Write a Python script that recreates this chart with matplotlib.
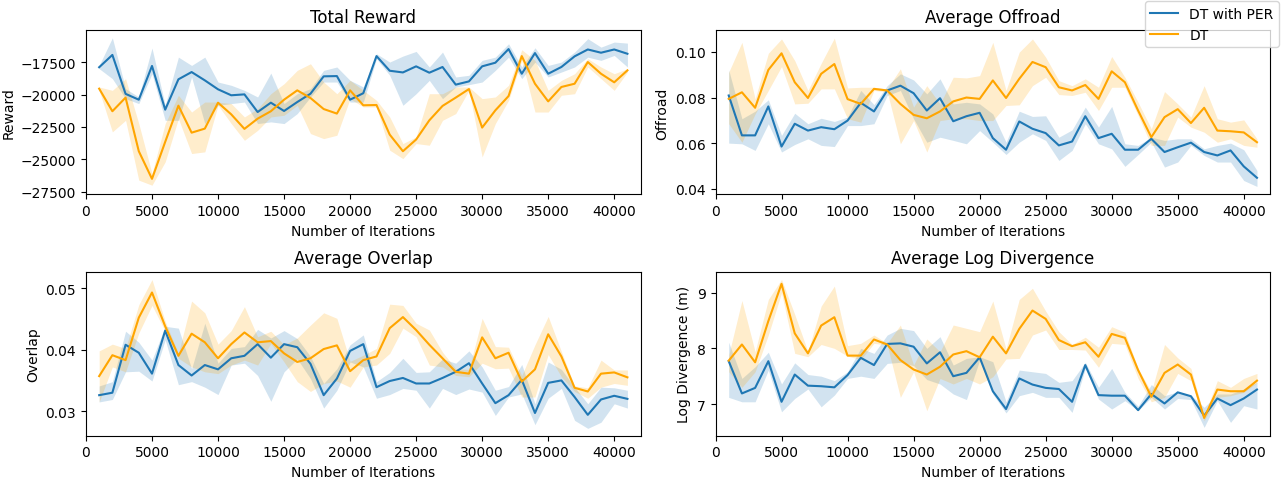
import numpy as np
import matplotlib
matplotlib.use('Agg')
import matplotlib.pyplot as plt
from matplotlib.ticker import MultipleLocator

iterations = np.arange(1000, 42000, 1000)

# Total Reward
reward_per = [-17900, -16950, -19950, -20400, -17800, -21170, -18830, -18270, -18910, -19600,
              -20060, -19990, -21350, -20630, -21270, -20580, -19940, -18600, -18580, -20400,
              -19900, -17040, -18170, -18300, -17830, -18320, -17880, -19240, -18990, -17830,
              -17550, -16500, -18400, -16810, -18400, -17880, -17060, -16530, -16780, -16530, -16860]
reward_per_lo = [-18010, -18780, -20320, -20700, -18400, -21990, -21990, -18650, -22240, -20830,
                 -20700, -20580, -22240, -22110, -22240, -21470, -20190, -19040, -19040, -20580,
                 -20580, -17240, -18520, -20830, -19940, -18910, -20320, -19420, -19240, -19040,
                 -18140, -17120, -18780, -17500, -18650, -18270, -17880, -17120, -17370, -16990, -17880]
reward_per_hi = [-17760, -15630, -19550, -20190, -16420, -20830, -17120, -17760, -17120, -19040,
                 -19290, -19680, -20190, -18350, -20700, -19940, -19550, -18140, -17880, -18910,
                 -19420, -16860, -17500, -17040, -16680, -17880, -16730, -18650, -18520, -17370,
                 -17120, -16090, -17880, -16400, -17760, -17500, -16730, -15700, -16350, -15960, -16040]
reward_dt = [-19550, -21290, -20240, -24370, -26500, -23650, -20860, -22940, -22630, -20630,
             -21530, -22650, -21860, -21290, -20400, -19680, -20270, -21120, -21470, -19680,
             -20830, -20810, -23090, -24370, -23470, -21990, -20880, -20240, -19580, -22550,
             -21220, -20120, -17040, -19170, -20530, -19420, -19170, -17500, -18400, -19060, -18140]
reward_dt_lo = [-19680, -22880, -21990, -26600, -26990, -25190, -21860, -24550, -24420, -20830,
                -22240, -23530, -22760, -21730, -21600, -20830, -23010, -23400, -23140, -20320,
                -20960, -20960, -24290, -24940, -23780, -23910, -21990, -21470, -19680, -24810,
                -22240, -20450, -17370, -21350, -21350, -20060, -19940, -17880, -18780, -19680, -18270]
reward_dt_hi = [-19420, -19680, -18780, -22240, -26090, -22240, -20060, -21350, -20580, -20580,
                -20700, -21730, -21090, -19940, -19170, -18140, -17630, -19040, -19940, -18910,
                -19680, -20450, -21730, -23780, -23270, -19940, -19940, -19420, -19420, -20320,
                -20190, -19290, -16550, -17370, -19680, -18910, -18400, -17240, -17880, -18400, -18010]

# Average Offroad
offroad_per = [0.0809, 0.0634, 0.0634, 0.0761, 0.0585, 0.0685, 0.0655, 0.0670, 0.0661, 0.0699,
               0.0777, 0.0739, 0.0831, 0.0852, 0.0819, 0.0743, 0.0797, 0.0696, 0.0718, 0.0733,
               0.0622, 0.0571, 0.0695, 0.0663, 0.0644, 0.0590, 0.0607, 0.0718, 0.0622, 0.0641,
               0.0571, 0.0571, 0.0619, 0.0561, 0.0582, 0.0602, 0.0561, 0.0546, 0.0568, 0.0498, 0.0448]
offroad_per_lo = [0.0600, 0.0597, 0.0568, 0.0685, 0.0561, 0.0594, 0.0619, 0.0590, 0.0585, 0.0677,
                  0.0677, 0.0685, 0.0809, 0.0831, 0.0707, 0.0604, 0.0626, 0.0612, 0.0597, 0.0655,
                  0.0604, 0.0550, 0.0604, 0.0641, 0.0612, 0.0524, 0.0568, 0.0685, 0.0597, 0.0575,
                  0.0498, 0.0550, 0.0604, 0.0495, 0.0517, 0.0590, 0.0546, 0.0517, 0.0517, 0.0436, 0.0410]
offroad_per_hi = [0.0921, 0.0707, 0.0740, 0.0790, 0.0634, 0.0731, 0.0685, 0.0709, 0.0695, 0.0714,
                  0.0831, 0.0769, 0.0852, 0.0904, 0.0877, 0.0816, 0.0882, 0.0772, 0.0779, 0.0772,
                  0.0728, 0.0604, 0.0740, 0.0717, 0.0720, 0.0626, 0.0658, 0.0758, 0.0670, 0.0761,
                  0.0597, 0.0590, 0.0626, 0.0612, 0.0619, 0.0619, 0.0575, 0.0590, 0.0600, 0.0571, 0.0480]
offroad_dt = [0.0794, 0.0823, 0.0755, 0.0921, 0.0994, 0.0867, 0.0798, 0.0904, 0.0947, 0.0793,
              0.0772, 0.0838, 0.0831, 0.0772, 0.0724, 0.0709, 0.0739, 0.0783, 0.0800, 0.0794,
              0.0875, 0.0798, 0.0882, 0.0956, 0.0933, 0.0845, 0.0831, 0.0855, 0.0794, 0.0915,
              0.0867, 0.0743, 0.0626, 0.0714, 0.0749, 0.0688, 0.0755, 0.0655, 0.0652, 0.0647, 0.0604]
offroad_dt_lo = [0.0685, 0.0604, 0.0728, 0.0831, 0.0936, 0.0772, 0.0775, 0.0838, 0.0838, 0.0707,
                 0.0692, 0.0831, 0.0825, 0.0597, 0.0699, 0.0561, 0.0699, 0.0707, 0.0707, 0.0699,
                 0.0699, 0.0765, 0.0768, 0.0852, 0.0889, 0.0813, 0.0809, 0.0823, 0.0743, 0.0845,
                 0.0845, 0.0721, 0.0590, 0.0590, 0.0714, 0.0670, 0.0648, 0.0604, 0.0619, 0.0590, 0.0582]
offroad_dt_hi = [0.0911, 0.1042, 0.0794, 0.0994, 0.1057, 0.0962, 0.0831, 0.0950, 0.1061, 0.0842,
                 0.0845, 0.0845, 0.0838, 0.0926, 0.0758, 0.0852, 0.0772, 0.0889, 0.0886, 0.0896,
                 0.1042, 0.0831, 0.0999, 0.1057, 0.0977, 0.0874, 0.0852, 0.0882, 0.0845, 0.0980,
                 0.0889, 0.0779, 0.0663, 0.0826, 0.0772, 0.0714, 0.0852, 0.0707, 0.0692, 0.0702, 0.0619]

# Average Overlap
overlap_per = [0.0326, 0.0330, 0.0408, 0.0395, 0.0361, 0.0431, 0.0375, 0.0358, 0.0375, 0.0368,
               0.0386, 0.0390, 0.0409, 0.0387, 0.0409, 0.0404, 0.0377, 0.0326, 0.0353, 0.0398,
               0.0409, 0.0339, 0.0349, 0.0354, 0.0345, 0.0345, 0.0354, 0.0364, 0.0378, 0.0345,
               0.0313, 0.0326, 0.0351, 0.0297, 0.0346, 0.0350, 0.0323, 0.0294, 0.0319, 0.0325, 0.0320]
overlap_per_lo = [0.0315, 0.0319, 0.0364, 0.0365, 0.0349, 0.0416, 0.0343, 0.0348, 0.0339, 0.0327,
                  0.0375, 0.0378, 0.0358, 0.0316, 0.0364, 0.0385, 0.0353, 0.0305, 0.0334, 0.0380,
                  0.0372, 0.0321, 0.0327, 0.0337, 0.0334, 0.0305, 0.0337, 0.0327, 0.0336, 0.0331,
                  0.0293, 0.0323, 0.0328, 0.0278, 0.0321, 0.0337, 0.0285, 0.0272, 0.0282, 0.0312, 0.0305]
overlap_per_hi = [0.0341, 0.0348, 0.0430, 0.0412, 0.0383, 0.0438, 0.0435, 0.0369, 0.0443, 0.0378,
                  0.0402, 0.0405, 0.0433, 0.0419, 0.0431, 0.0418, 0.0389, 0.0345, 0.0369, 0.0408,
                  0.0424, 0.0348, 0.0363, 0.0386, 0.0363, 0.0364, 0.0385, 0.0378, 0.0398, 0.0372,
                  0.0334, 0.0340, 0.0376, 0.0312, 0.0380, 0.0368, 0.0339, 0.0312, 0.0339, 0.0338, 0.0334]
overlap_dt = [0.0357, 0.0391, 0.0383, 0.0452, 0.0493, 0.0438, 0.0390, 0.0426, 0.0412, 0.0386,
              0.0409, 0.0428, 0.0412, 0.0414, 0.0394, 0.0380, 0.0386, 0.0401, 0.0407, 0.0365,
              0.0383, 0.0389, 0.0435, 0.0453, 0.0432, 0.0408, 0.0386, 0.0364, 0.0361, 0.0420,
              0.0386, 0.0395, 0.0348, 0.0368, 0.0425, 0.0389, 0.0338, 0.0332, 0.0361, 0.0363, 0.0355]
overlap_dt_lo = [0.0315, 0.0372, 0.0364, 0.0427, 0.0472, 0.0430, 0.0386, 0.0372, 0.0364, 0.0361,
                 0.0375, 0.0383, 0.0375, 0.0410, 0.0380, 0.0348, 0.0332, 0.0345, 0.0349, 0.0339,
                 0.0372, 0.0375, 0.0394, 0.0435, 0.0421, 0.0375, 0.0372, 0.0358, 0.0356, 0.0378,
                 0.0369, 0.0370, 0.0323, 0.0323, 0.0392, 0.0356, 0.0332, 0.0321, 0.0339, 0.0345, 0.0342]
overlap_dt_hi = [0.0398, 0.0409, 0.0402, 0.0473, 0.0514, 0.0446, 0.0394, 0.0479, 0.0460, 0.0409,
                 0.0431, 0.0470, 0.0421, 0.0430, 0.0408, 0.0419, 0.0440, 0.0460, 0.0451, 0.0381,
                 0.0391, 0.0402, 0.0474, 0.0472, 0.0443, 0.0432, 0.0396, 0.0369, 0.0368, 0.0451,
                 0.0405, 0.0404, 0.0358, 0.0408, 0.0454, 0.0397, 0.0341, 0.0338, 0.0383, 0.0367, 0.0367]

# Average Log Divergence
logdiv_per = [7.77, 7.19, 7.29, 7.77, 7.04, 7.53, 7.33, 7.32, 7.30, 7.52,
              7.83, 7.70, 8.08, 8.09, 8.03, 7.73, 7.93, 7.50, 7.56, 7.84,
              7.23, 6.91, 7.46, 7.35, 7.29, 7.27, 7.04, 7.70, 7.16, 7.15,
              7.15, 6.89, 7.18, 7.01, 7.21, 7.14, 6.79, 7.10, 6.98, 7.10, 7.26]
logdiv_per_lo = [7.12, 7.04, 7.04, 7.61, 6.86, 7.10, 7.27, 6.95, 7.16, 7.46,
                 7.50, 7.46, 7.73, 7.75, 7.69, 7.44, 7.36, 7.18, 7.08, 7.79,
                 7.18, 6.84, 7.15, 7.21, 7.12, 7.12, 6.85, 7.64, 7.09, 6.91,
                 7.06, 6.88, 7.12, 6.91, 7.10, 7.08, 6.58, 7.06, 6.67, 6.97, 6.91]
logdiv_per_hi = [8.11, 7.46, 7.67, 7.93, 7.36, 7.74, 7.53, 7.50, 7.42, 7.58,
                 8.00, 7.91, 8.24, 8.36, 8.32, 8.00, 8.21, 7.70, 7.82, 7.85,
                 7.76, 7.04, 7.61, 7.58, 7.55, 7.39, 7.42, 7.75, 7.30, 7.64,
                 7.21, 6.96, 7.35, 7.15, 7.22, 7.16, 6.94, 7.18, 7.18, 7.27, 7.39]
logdiv_dt = [7.78, 8.07, 7.75, 8.49, 9.16, 8.27, 7.91, 8.41, 8.56, 7.87,
             7.87, 8.16, 8.07, 7.79, 7.62, 7.53, 7.67, 7.89, 7.95, 7.84,
             8.21, 7.91, 8.35, 8.68, 8.53, 8.15, 8.04, 8.11, 7.85, 8.26,
             8.19, 7.61, 7.13, 7.56, 7.71, 7.53, 6.75, 7.26, 7.23, 7.23, 7.42]
logdiv_dt_lo = [7.58, 7.30, 7.58, 8.24, 9.00, 7.91, 7.85, 8.07, 8.00, 7.86,
                7.80, 8.09, 8.06, 7.12, 7.58, 6.88, 7.46, 7.36, 7.46, 7.36,
                7.49, 7.81, 7.82, 8.24, 8.33, 7.98, 7.98, 7.97, 7.66, 8.09,
                8.07, 7.46, 7.04, 7.12, 7.55, 7.42, 6.70, 7.12, 7.15, 7.21, 7.38]
logdiv_dt_hi = [7.88, 8.86, 7.94, 8.88, 9.24, 8.61, 7.94, 8.76, 9.12, 8.05,
                8.09, 8.24, 8.09, 8.42, 7.70, 8.17, 7.94, 8.42, 8.36, 8.30,
                8.85, 7.99, 8.88, 9.08, 8.67, 8.30, 8.07, 8.20, 8.02, 8.39,
                8.29, 7.64, 7.22, 8.07, 7.83, 7.64, 6.79, 7.42, 7.30, 7.46, 7.55]

panels = [
    ('Total Reward', 'Reward', (-27700, -15050),
     (reward_per, reward_per_lo, reward_per_hi), (reward_dt, reward_dt_lo, reward_dt_hi)),
    ('Average Offroad', 'Offroad', (0.0375, 0.1095),
     (offroad_per, offroad_per_lo, offroad_per_hi), (offroad_dt, offroad_dt_lo, offroad_dt_hi)),
    ('Average Overlap', 'Overlap', (0.0260, 0.0527),
     (overlap_per, overlap_per_lo, overlap_per_hi), (overlap_dt, overlap_dt_lo, overlap_dt_hi)),
    ('Average Log Divergence', 'Log Divergence (m)', (6.43, 9.38),
     (logdiv_per, logdiv_per_lo, logdiv_per_hi), (logdiv_dt, logdiv_dt_lo, logdiv_dt_hi)),
]

per_color = '#1f77b4'
dt_color = 'orange'

fig, axes = plt.subplots(2, 2, figsize=(12.83, 4.81), dpi=100)
fig.subplots_adjust(left=0.067, right=0.99, top=0.935, bottom=0.092, wspace=0.135, hspace=0.47)

for ax, (title, ylabel, ylim, per, dt) in zip(axes.flat, panels):
    ax.fill_between(iterations, per[1], per[2], color=per_color, alpha=0.2, linewidth=0)
    ax.fill_between(iterations, dt[1], dt[2], color=dt_color, alpha=0.2, linewidth=0)
    ax.plot(iterations, per[0], color=per_color, label='DT with PER')
    ax.plot(iterations, dt[0], color=dt_color, label='DT')
    ax.set_title(title)
    ax.set_ylabel(ylabel)
    ax.set_xlabel('Number of Iterations')
    ax.set_xlim(0, 42000)
    ax.set_ylim(*ylim)

# reward axis uses 2500 steps like the original
axes[0, 0].yaxis.set_major_locator(MultipleLocator(2500))

handles, labels = axes[0, 0].get_legend_handles_labels()
fig.legend(handles, labels, loc='upper right', bbox_to_anchor=(1279 / 1283, 1 - 2 / 481),
           borderaxespad=0)

plt.savefig('out.png', dpi=100)
